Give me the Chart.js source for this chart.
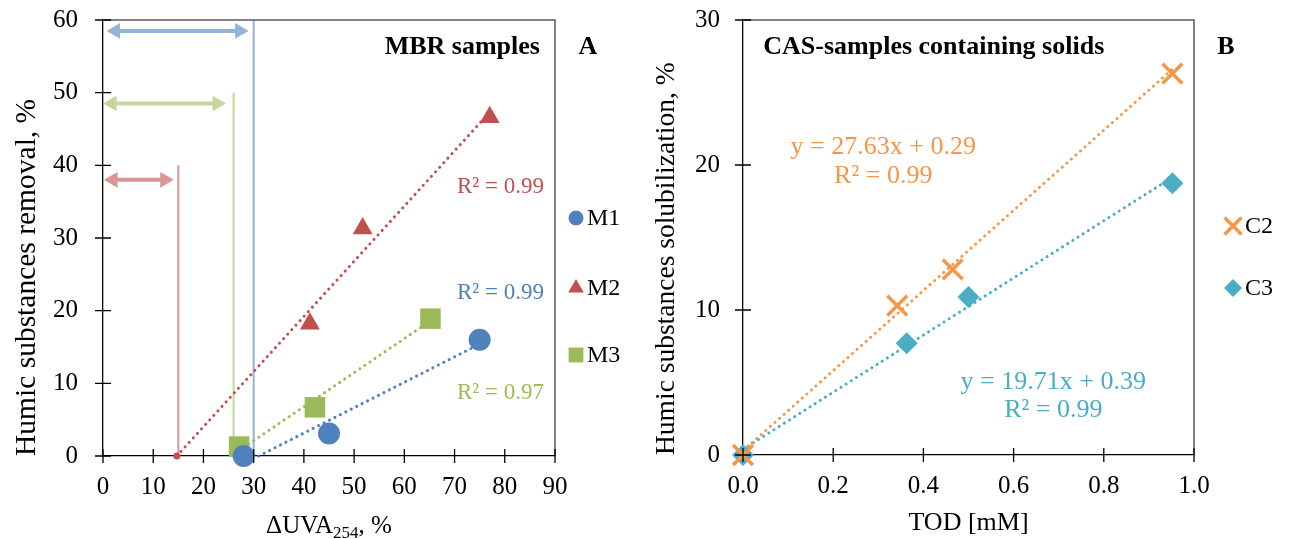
<!DOCTYPE html>
<html>
<head>
<meta charset="utf-8">
<script src="https://cdn.jsdelivr.net/npm/chart.js@4.4.0/dist/chart.umd.min.js"></script>
<style>
  html, body { margin: 0; padding: 0; background: #fff; }
  #wrap { position: relative; width: 1293px; height: 539px; }
  #wrap canvas { position: absolute; top: 0; }
</style>
</head>
<body>
<div id="wrap">
  <canvas id="chartA" width="646" height="539" style="left:0"></canvas>
  <canvas id="chartB" width="647" height="539" style="left:646px"></canvas>
</div>
<script>
// ---- panel A: MBR samples ----
var m1X = [28, 45, 75];
var m1Y = [0, 3.1, 16.0];
var m2X = [41.2, 51.7, 77];
var m2Y = [18.2, 31.3, 46.6];
var m3X = [27.1, 42.2, 65.2];
var m3Y = [1.3, 6.7, 18.9];
var m1TrendX = [31, 75];
var m1TrendY = [0, 15.4];
var m2TrendX = [14.7, 77];
var m2TrendY = [0, 47.3];
var m3TrendX = [27, 65];
var m3TrendY = [0.7, 18.5];
var guideX = [15, 26, 30];
var guideTop = [40, 50, 60];
var arrowY = [38, 48.5, 58.5];
var arrowFrom = [2.0, 1.8, 2.5];
var arrowTo = [12.3, 22.7, 27.2];
var r2LabelsA = ['R\u00b2 = 0.99', 'R\u00b2 = 0.99', 'R\u00b2 = 0.97'];

// ---- panel B: CAS samples ----
var c2X = [0, 0.342, 0.465, 0.952];
var c2Y = [0, 10.3, 12.8, 26.3];
var c3X = [0, 0.363, 0.5, 0.952];
var c3Y = [0, 7.7, 10.9, 18.75];
var c2TrendX = [0, 0.952];
var c2TrendY = [0.29, 26.6];
var c3TrendX = [0, 0.952];
var c3TrendY = [0.39, 19.15];
var eqLabelsB = ['y = 27.63x + 0.29', 'y = 19.71x + 0.39'];
var r2LabelsB = ['R\u00b2 = 0.99', 'R\u00b2 = 0.99'];

var BLUE = '#4F81BD', RED = '#C0504D', GREEN = '#9BBB59';
var ORANGE = '#F79646', TEAL = '#4BACC6';
var serif = '"Liberation Serif", "Times New Roman", serif';
Chart.defaults.font.family = serif;
Chart.defaults.color = '#000';

function pts(xs, ys) {
    return xs.map(function (x, i) { return { x: x, y: ys[i] }; });
}

function markers(label, xs, ys, style, r, color, extra) {
    var ds = {
        label: label, data: pts(xs, ys), showLine: false, clip: false,
        pointStyle: style, pointRadius: r, pointHoverRadius: r,
        backgroundColor: color, borderColor: color, borderWidth: 0
    };
    return Object.assign(ds, extra || {});
}

function trend(xs, ys, color, extra) {
    var ds = {
        data: pts(xs, ys), showLine: true, clip: false, pointRadius: 0,
        borderColor: color, backgroundColor: color, borderWidth: 3,
        borderDash: [0.1, 6], borderCapStyle: 'round'
    };
    return Object.assign(ds, extra || {});
}

function solid(xs, ys, color, width, extra) {
    var ds = {
        data: pts(xs, ys), showLine: true, clip: false, pointRadius: 0,
        borderColor: color, backgroundColor: color, borderWidth: width
    };
    return Object.assign(ds, extra || {});
}

// tick marks that cross the axes, plus the top/right frame
function frame(chart) {
    var ctx = chart.ctx, a = chart.chartArea;
    var xs = chart.scales.x, ys = chart.scales.y;
    ctx.save();
    ctx.strokeStyle = '#595959';
    ctx.lineWidth = 1.5;
    ctx.beginPath();
    ctx.moveTo(a.left, a.top);
    ctx.lineTo(a.right, a.top);
    ctx.lineTo(a.right, a.bottom);
    ctx.stroke();
    ctx.strokeStyle = '#000';
    ctx.lineWidth = 1.3;
    ctx.beginPath();
    xs.ticks.forEach(function (t) {
        var px = xs.getPixelForValue(t.value);
        ctx.moveTo(px, a.bottom - 7);
        ctx.lineTo(px, a.bottom + 7);
    });
    ys.ticks.forEach(function (t) {
        var py = ys.getPixelForValue(t.value);
        ctx.moveTo(a.left - 8, py);
        ctx.lineTo(a.left + 8, py);
    });
    ctx.stroke();
    ctx.restore();
}

function text(ctx, str, x, y, font, color, align) {
    ctx.font = font;
    ctx.fillStyle = color;
    ctx.textAlign = align || 'left';
    ctx.textBaseline = 'middle';
    ctx.fillText(str, x, y);
}

function legend(chart, items, mx, tx) {
    var ctx = chart.ctx;
    items.forEach(function (it) {
        ctx.save();
        ctx.fillStyle = it.color;
        ctx.strokeStyle = it.color;
        ctx.lineWidth = it.bw || 0;
        Chart.helpers.drawPoint(ctx, { pointStyle: it.style, radius: it.r, rotation: 0, borderWidth: it.bw || 0 }, mx, it.y);
        ctx.restore();
        text(ctx, it.label, tx, it.y + 1, '24px ' + serif, '#000', 'left');
    });
}

var decorA = {
    id: 'decorA',
    afterDraw: function (chart) {
        var ctx = chart.ctx, a = chart.chartArea;
        var xs = chart.scales.x, ys = chart.scales.y;
        frame(chart);
        text(ctx, 'MBR samples', xs.getPixelForValue(87), ys.getPixelForValue(56.3), 'bold 26px ' + serif, '#000', 'right');
        text(ctx, 'A', a.right + 33, ys.getPixelForValue(56.3), 'bold 26px ' + serif, '#000', 'center');
        var r2Y = [37, 22.5, 8.7], r2C = [RED, BLUE, GREEN];
        r2LabelsA.forEach(function (s, i) {
            text(ctx, s, xs.getPixelForValue(87.8), ys.getPixelForValue(r2Y[i]), '23px ' + serif, r2C[i], 'right');
        });
        legend(chart, [
            { label: 'M1', style: 'circle', r: 7.5, color: BLUE, y: 218 },
            { label: 'M2', style: 'triangle', r: 9, color: RED, y: 288 },
            { label: 'M3', style: 'rect', r: 10.5, color: GREEN, y: 355 }
        ], a.right + 21, a.right + 32);
        // x title with subscript
        var big = '25px ' + serif, small = '17px ' + serif;
        var parts = [['\u0394UVA', big, 0], ['254', small, 5], [', %', big, 0]];
        var total = 0;
        parts.forEach(function (p) { ctx.font = p[1]; p.push(ctx.measureText(p[0]).width); total += p[3]; });
        var x = (a.left + a.right) / 2 - total / 2;
        ctx.save();
        ctx.fillStyle = '#000';
        ctx.textAlign = 'left';
        ctx.textBaseline = 'alphabetic';
        parts.forEach(function (p) {
            ctx.font = p[1];
            ctx.fillText(p[0], x, 533 + p[2]);
            x += p[3];
        });
        ctx.restore();
    }
};

var decorB = {
    id: 'decorB',
    afterDraw: function (chart) {
        var ctx = chart.ctx, a = chart.chartArea;
        var xs = chart.scales.x, ys = chart.scales.y;
        frame(chart);
        text(ctx, 'CAS-samples containing solids', xs.getPixelForValue(0.045), ys.getPixelForValue(28.1), 'bold 26px ' + serif, '#000', 'left');
        text(ctx, 'B', a.right + 32, ys.getPixelForValue(28.1), 'bold 26px ' + serif, '#000', 'center');
        var f = '26px ' + serif;
        text(ctx, eqLabelsB[0], xs.getPixelForValue(0.311), ys.getPixelForValue(21.2), f, ORANGE, 'center');
        text(ctx, r2LabelsB[0], xs.getPixelForValue(0.311), ys.getPixelForValue(19.2), f, ORANGE, 'center');
        text(ctx, eqLabelsB[1], xs.getPixelForValue(0.688), ys.getPixelForValue(5.0), f, TEAL, 'center');
        text(ctx, r2LabelsB[1], xs.getPixelForValue(0.688), ys.getPixelForValue(3.1), f, TEAL, 'center');
        legend(chart, [
            { label: 'C2', style: 'crossRot', r: 12, bw: 3.5, color: ORANGE, y: 226 },
            { label: 'C3', style: 'rectRot', r: 9, color: TEAL, y: 288 }
        ], a.right + 39, a.right + 51);
    }
};

function axis(min, max, step, width, pad, fmt, title, titleSize, titleAlign, titlePad) {
    return {
        type: 'linear', min: min, max: max,
        grid: { display: false, drawTicks: false },
        border: { display: true, color: '#000', width: 1.3 },
        ticks: {
            stepSize: step, padding: pad, color: '#000',
            font: { size: 25, family: serif },
            callback: fmt || function (v) { return v; }
        },
        title: title ? {
            display: true, text: title, color: '#000', align: titleAlign,
            font: { size: titleSize, family: serif },
            padding: titlePad
        } : { display: false },
        afterFit: function (s) {
            if (s.isHorizontal()) { s.height = width; } else { s.width = width; }
            s.paddingTop = 0; s.paddingBottom = 0; s.paddingLeft = 0; s.paddingRight = 0;
        }
    };
}

new Chart(document.getElementById('chartA'), {
    type: 'scatter',
    data: {
        datasets: [
            markers('M1', m1X, m1Y, 'circle', 11, BLUE),
            markers('M2', m2X, m2Y, 'triangle', 11.5, RED),
            markers('M3', m3X, m3Y, 'rect', 14.5, GREEN),
            trend(m1TrendX, m1TrendY, BLUE),
            trend(m2TrendX, m2TrendY, RED, { pointRadius: [3.5, 0], pointBorderWidth: 0 }),
            trend(m3TrendX, m3TrendY, GREEN),
            solid([guideX[0], guideX[0]], [0, guideTop[0]], '#DA9694', 2),
            solid([guideX[1], guideX[1]], [0, guideTop[1]], '#C3D69B', 2),
            solid([guideX[2], guideX[2]], [0, guideTop[2]], '#95B3D7', 2),
            solid([arrowFrom[0], arrowTo[0]], [arrowY[0], arrowY[0]], '#DA9694', 4,
                { pointStyle: 'triangle', pointRadius: 9, pointRotation: [-90, 90], pointBorderWidth: 0 }),
            solid([arrowFrom[1], arrowTo[1]], [arrowY[1], arrowY[1]], '#C3D69B', 4,
                { pointStyle: 'triangle', pointRadius: 9, pointRotation: [-90, 90], pointBorderWidth: 0 }),
            solid([arrowFrom[2], arrowTo[2]], [arrowY[2], arrowY[2]], '#95B3D7', 4,
                { pointStyle: 'triangle', pointRadius: 9, pointRotation: [-90, 90], pointBorderWidth: 0 })
        ]
    },
    options: {
        responsive: false, animation: false, events: [],
        layout: { padding: { left: 0, top: 20, right: 91, bottom: 0 } },
        plugins: { legend: { display: false }, tooltip: { enabled: false } },
        scales: {
            x: axis(0, 90, 10, 83, 16, null, null),
            y: axis(0, 60, 10, 103, 25, null, 'Humic substances removal, %', 29.5, 'start', { top: 10, bottom: 0 })
        }
    },
    plugins: [decorA]
});

new Chart(document.getElementById('chartB'), {
    type: 'scatter',
    data: {
        datasets: [
            markers('C2', c2X, c2Y, 'crossRot', 14, ORANGE, { borderWidth: 3.5 }),
            markers('C3', c3X, c3Y, 'rectRot', 11, TEAL),
            trend(c2TrendX, c2TrendY, ORANGE),
            trend(c3TrendX, c3TrendY, TEAL)
        ]
    },
    options: {
        responsive: false, animation: false, events: [],
        layout: { padding: { left: 0, top: 20, right: 99, bottom: 0 } },
        plugins: { legend: { display: false }, tooltip: { enabled: false } },
        scales: {
            x: axis(0, 1, 0.2, 84, 16, function (v) { return v.toFixed(1); }, 'TOD [mM]', 26, 'center', { top: 0, bottom: 0 }),
            y: axis(0, 30, 10, 97, 23, null, 'Humic substances solubilization, %', 27.5, 'start', { top: 4, bottom: 0 })
        }
    },
    plugins: [decorB]
});
</script>
</body>
</html>
